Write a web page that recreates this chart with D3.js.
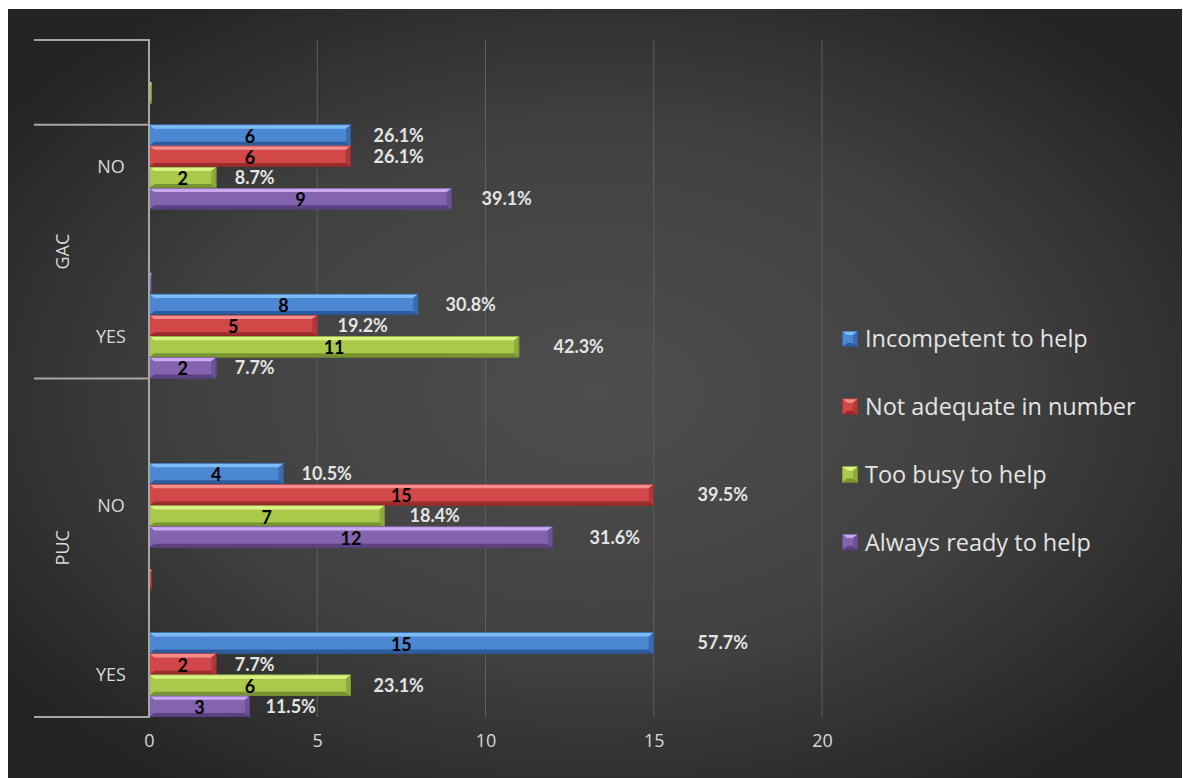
<!DOCTYPE html>
<html>
<head>
<meta charset="utf-8">
<script src="https://cdn.jsdelivr.net/npm/d3@7"></script>
<style>
  body { margin: 0; background: #ffffff; }
  svg { display: block; }
</style>
</head>
<body>
<svg id="chart" width="1183" height="778"></svg>
<script>
// ---- data ----
const rows = ["", "NO", "", "YES", "", "NO", "", "YES"];          // inner categories, top to bottom
const groups = ["", "GAC", "PUC"];                                 // outer categories
const rowGroup = [0, 1, 1, 1, 2, 2, 2, 2];                         // outer category of each row
const seriesNames = ["Incompetent to help", "Not adequate in number", "Too busy to help", "Always ready to help"];
const incompetent = [null, 6, null, 8, null, 4, null, 15];
const notAdequate = [null, 6, null, 5, null, 15, 0.08, 2];
const tooBusy     = [0.08, 2, null, 11, null, 7, null, 6];
const alwaysReady = [null, 9, 0.08, 2, null, 12, null, 3];
const incompetentPct = [null, "26.1%", null, "30.8%", null, "10.5%", null, "57.7%"];
const notAdequatePct = [null, "26.1%", null, "19.2%", null, "39.5%", null, "7.7%"];
const tooBusyPct     = [null, "8.7%", null, "42.3%", null, "18.4%", null, "23.1%"];
const alwaysReadyPct = [null, "39.1%", null, "7.7%", null, "31.6%", null, "11.5%"];
const xTicks = [0, 5, 10, 15, 20];

const seriesValues = [incompetent, notAdequate, tooBusy, alwaysReady];
const seriesPct = [incompetentPct, notAdequatePct, tooBusyPct, alwaysReadyPct];

// bevel palettes: light top, body, dark bottom, end cap
const palettes = [
  { light: "#7dbcf4", body: "#4b87d2", dark: "#2d5c9c", end: "#3a6cae", line: "#264f88" },
  { light: "#f68c8c", body: "#d24848", dark: "#9a2c2c", end: "#b13838", line: "#862424" },
  { light: "#dcf384", body: "#a9c94b", dark: "#789432", end: "#8dab3c", line: "#66802a" },
  { light: "#caa8ee", body: "#8464ae", dark: "#5c4282", end: "#6d5296", line: "#4e3872" }
];

const FONT = "Lato, 'Open Sans', sans-serif";
const TEXT_FONT = "'Open Sans', Lato, sans-serif";

const svg = d3.select("#chart");
const defs = svg.append("defs");

// ---- background ----
const bg = defs.append("radialGradient").attr("id", "bgGrad")
  .attr("cx", "0.5").attr("cy", "0.5").attr("r", "0.62");
bg.append("stop").attr("offset", "0").attr("stop-color", "#4e4e4e");
bg.append("stop").attr("offset", "0.55").attr("stop-color", "#414141");
bg.append("stop").attr("offset", "1").attr("stop-color", "#242424");
svg.append("rect").attr("x", 8).attr("y", 9).attr("width", 1174).attr("height", 769)
  .attr("fill", "url(#bgGrad)");

// ---- scales ----
const x = d3.scaleLinear().domain([0, 20]).range([149, 822]);
const y = d3.scaleBand().domain(d3.range(rows.length)).range([40, 717]).padding(0);
const yInner = d3.scaleBand().domain(d3.range(seriesValues.length)).range([0, y.bandwidth()]).padding(0);

// ---- gridlines ----
svg.append("g").selectAll("line").data(xTicks.filter(t => t > 0)).join("line")
  .attr("x1", d => x(d)).attr("x2", d => x(d))
  .attr("y1", 40).attr("y2", 717)
  .attr("stroke", "#5e5e5e").attr("stroke-width", 1);

// ---- x axis ----
const xAxis = svg.append("g").attr("transform", "translate(0,733)")
  .call(d3.axisBottom(x).tickValues(xTicks).tickSize(0).tickPadding(0));
xAxis.select(".domain").remove();
xAxis.selectAll("text")
  .attr("fill", "#d9d9d9").attr("font-family", TEXT_FONT).attr("font-size", 18)
  .attr("dy", "0.8em");

// ---- bevelled bars ----
function bevelBar(g, x0, x1, y0, y1, pal) {
  const w = x1 - x0, h = y1 - y0;
  const b = Math.min(5, w / 2), bt = Math.min(4, h / 2);
  g.append("rect").attr("x", x0).attr("y", y0).attr("width", w).attr("height", h)
    .attr("fill", pal.body);
  const poly = (pts, fill) => g.append("polygon")
    .attr("points", pts.map(p => p.join(",")).join(" ")).attr("fill", fill);
  poly([[x0, y0], [x1, y0], [x1 - b, y0 + bt], [x0 + b, y0 + bt]], pal.light);
  poly([[x0, y1], [x1, y1], [x1 - b, y1 - bt], [x0 + b, y1 - bt]], pal.dark);
  poly([[x1, y0], [x1, y1], [x1 - b, y1 - bt], [x1 - b, y0 + bt]], pal.end);
  poly([[x0, y0], [x0, y1], [x0 + b, y1 - bt], [x0 + b, y0 + bt]], pal.body);
  g.append("rect").attr("x", x0 + 0.25).attr("y", y0 + 0.25)
    .attr("width", Math.max(0, w - 0.5)).attr("height", h - 0.5)
    .attr("fill", "none").attr("stroke", pal.line).attr("stroke-width", 0.5);
}

const barLayer = svg.append("g");
const labelLayer = svg.append("g");
seriesValues.forEach((vals, s) => {
  vals.forEach((v, r) => {
    if (v == null) return;
    const y0 = y(r) + yInner(s);
    const y1 = y0 + yInner.bandwidth();
    bevelBar(barLayer.append("g"), x(0), x(v), y0, y1, palettes[s]);
    const pct = seriesPct[s][r];
    if (pct == null) return;
    const cy = (y0 + y1) / 2;
    labelLayer.append("text")
      .attr("x", (x(0) + x(v)) / 2).attr("y", cy).attr("dy", "0.42em")
      .attr("text-anchor", "middle")
      .attr("font-family", FONT).attr("font-weight", 700).attr("font-size", 18)
      .attr("fill", "#000000").text(v);
    labelLayer.append("text")
      .attr("x", x(v * 1.07 + 1)).attr("y", cy).attr("dy", "0.36em")
      .attr("text-anchor", "middle")
      .attr("font-family", FONT).attr("font-weight", 700).attr("font-size", 18)
      .attr("fill", "#e4e4e4").text(pct);
  });
});

// ---- category axis (two levels) ----
svg.append("line").attr("x1", 149).attr("x2", 149).attr("y1", 39).attr("y2", 718)
  .attr("stroke", "#a6a6a6").attr("stroke-width", 2);

const groupSpans = groups.map((name, gi) => {
  const idx = rowGroup.map((g, i) => g === gi ? i : -1).filter(i => i >= 0);
  return { name, top: y(idx[0]), bottom: y(idx[idx.length - 1]) + y.bandwidth() };
});
const bounds = Array.from(new Set(groupSpans.flatMap(g => [g.top, g.bottom])));
svg.append("g").selectAll("line").data(bounds).join("line")
  .attr("x1", 34).attr("x2", 149).attr("y1", d => d).attr("y2", d => d)
  .attr("stroke", "#a6a6a6").attr("stroke-width", 2);

svg.append("g").selectAll("text").data(rows.map((t, i) => ({ t, i })).filter(d => d.t)).join("text")
  .attr("x", 111).attr("y", d => y(d.i) + y.bandwidth() / 2).attr("dy", "0.36em")
  .attr("text-anchor", "middle")
  .attr("font-family", TEXT_FONT).attr("font-size", 18).attr("fill", "#d9d9d9")
  .text(d => d.t);

svg.append("g").selectAll("text").data(groupSpans.filter(g => g.name)).join("text")
  .attr("transform", d => `translate(63,${(d.top + d.bottom) / 2}) rotate(-90)`)
  .attr("dy", "0.36em").attr("text-anchor", "middle")
  .attr("font-family", TEXT_FONT).attr("font-size", 18).attr("fill", "#d9d9d9")
  .text(d => d.name);

// ---- legend ----
const legend = svg.append("g");
seriesNames.forEach((name, s) => {
  const ly = 339 + s * 67.7;
  bevelBar(legend.append("g"), 842, 858, ly - 8, ly + 8, palettes[s]);
  legend.append("text").attr("x", 865).attr("y", ly).attr("dy", "0.36em")
    .attr("font-family", TEXT_FONT).attr("font-size", 23.5).attr("fill", "#e4e4e4")
    .text(name);
});
</script>
</body>
</html>
